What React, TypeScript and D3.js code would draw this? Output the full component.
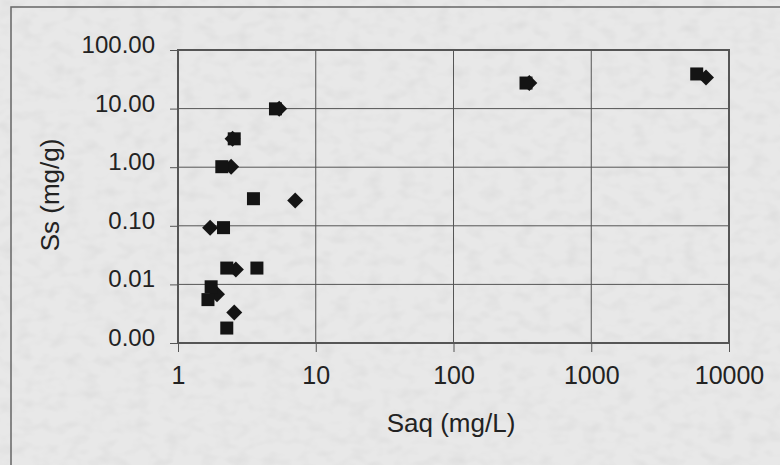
import { useEffect, useRef } from 'react'
import * as d3 from 'd3'

// Saq (mg/L) vs Ss (mg/g)
const squareSaq = [5.1, 2.56, 2.08, 3.53, 2.14, 2.26, 3.74, 1.74, 1.65, 2.26, 336, 5830]
const squareSs = [9.9, 3.05, 1.02, 0.29, 0.093, 0.019, 0.019, 0.0091, 0.0055, 0.0018, 27.3, 39]

const diamondSaq = [5.43, 2.49, 2.43, 7.09, 1.71, 2.63, 1.92, 2.56, 355, 6810]
const diamondSs = [9.9, 3.05, 1.02, 0.269, 0.093, 0.018, 0.0068, 0.0033, 27.3, 34]

const xTicks = [1, 10, 100, 1000, 10000]
const yTicks = [0.001, 0.01, 0.1, 1, 10, 100]

const xTitle = 'Saq (mg/L)'
const yTitle = 'Ss (mg/g)'

const FONT = 'Arial, "Liberation Sans", sans-serif'

export default function App() {
   const ref = useRef<SVGSVGElement>(null)

   const W = 780
   const H = 465
   const margin = { top: 50, right: 51, bottom: 122, left: 178 }

   useEffect(() => {
      const svg = d3.select(ref.current)
      svg.selectAll('*').remove()

      const width = W - margin.left - margin.right
      const height = H - margin.top - margin.bottom

      const x = d3.scaleLog().domain([1, 10000]).range([0, width])
      const y = d3.scaleLog().domain([0.001, 100]).range([height, 0])

      // faint scanned-paper texture
      const defs = svg.append('defs')
      const f = defs.append('filter').attr('id', 'paper').attr('x', 0).attr('y', 0).attr('width', '100%').attr('height', '100%')
      f.append('feTurbulence')
         .attr('type', 'fractalNoise')
         .attr('baseFrequency', '0.06 0.09')
         .attr('numOctaves', 2)
         .attr('seed', 4)
      f.append('feColorMatrix')
         .attr('type', 'matrix')
         .attr('values', '0 0 0 0 0  0 0 0 0 0  0 0 0 0 0  0 0 0 -0.6 0.35')

      svg.append('rect').attr('width', W).attr('height', H).attr('fill', '#e8e8e8')
      svg.append('rect').attr('width', W).attr('height', H).attr('filter', 'url(#paper)').attr('opacity', 0.12)

      // outer chart frame
      svg.append('path')
         .attr('d', `M11,${H} L11,7 L${W},7`)
         .attr('fill', 'none')
         .attr('stroke', '#666')
         .attr('stroke-width', 1.5)

      const g = svg.append('g').attr('transform', `translate(${margin.left},${margin.top})`)

      // gridlines
      g.selectAll('.hgrid')
         .data(yTicks.slice(1, -1))
         .enter()
         .append('line')
         .attr('x1', 0)
         .attr('x2', width)
         .attr('y1', (d) => y(d))
         .attr('y2', (d) => y(d))
         .attr('stroke', '#555')
         .attr('stroke-width', 1)

      g.selectAll('.vgrid')
         .data(xTicks.slice(1, -1))
         .enter()
         .append('line')
         .attr('x1', (d) => x(d))
         .attr('x2', (d) => x(d))
         .attr('y1', 0)
         .attr('y2', height)
         .attr('stroke', '#555')
         .attr('stroke-width', 1)

      // plot border
      g.append('rect')
         .attr('width', width)
         .attr('height', height)
         .attr('fill', 'none')
         .attr('stroke', '#555')
         .attr('stroke-width', 2)

      // axes
      const yAxis = d3.axisLeft(y)
         .tickValues(yTicks)
         .tickSize(8)
         .tickPadding(15)
         .tickFormat((d) => d3.format('.2f')(d as number))
      const yg = g.append('g').call(yAxis)
      yg.select('.domain').remove()
      yg.selectAll('line').attr('stroke', '#555')
      yg.selectAll('text')
         .attr('dy', '0.1em')
         .style('font-family', FONT)
         .style('font-size', '24px')
         .attr('fill', '#222')

      const xAxis = d3.axisBottom(x)
         .tickValues(xTicks)
         .tickSize(9)
         .tickPadding(14)
         .tickFormat((d) => String(d))
      const xg = g.append('g').attr('transform', `translate(0,${height})`).call(xAxis)
      xg.select('.domain').remove()
      xg.selectAll('line').attr('stroke', '#555')
      xg.selectAll('text')
         .style('font-family', FONT)
         .style('font-size', '25px')
         .attr('fill', '#222')

      // titles
      svg.append('text')
         .attr('x', 451)
         .attr('y', 432)
         .attr('text-anchor', 'middle')
         .style('font-family', FONT)
         .style('font-size', '26px')
         .attr('fill', '#222')
         .text(xTitle)

      svg.append('text')
         .attr('transform', 'translate(59,195) rotate(-90)')
         .attr('text-anchor', 'middle')
         .style('font-family', FONT)
         .style('font-size', '26px')
         .attr('fill', '#222')
         .text(yTitle)

      // diamonds first, squares on top
      const dm = 8
      g.selectAll('.diamond')
         .data(diamondSaq.map((v, i) => [v, diamondSs[i]]))
         .enter()
         .append('path')
         .attr('d', (d) => {
            const cx = x(d[0])
            const cy = y(d[1])
            return `M${cx},${cy - dm} L${cx + dm},${cy} L${cx},${cy + dm} L${cx - dm},${cy} Z`
         })
         .attr('fill', '#141414')

      const sq = 13
      g.selectAll('.square')
         .data(squareSaq.map((v, i) => [v, squareSs[i]]))
         .enter()
         .append('rect')
         .attr('x', (d) => x(d[0]) - sq / 2)
         .attr('y', (d) => y(d[1]) - sq / 2)
         .attr('width', sq)
         .attr('height', sq)
         .attr('fill', '#141414')
   }, [])

   return (
      <svg
         ref={ref}
         width={W}
         height={H}
         style={{ position: 'absolute', left: 0, top: 0, display: 'block' }}
      />
   )
}
